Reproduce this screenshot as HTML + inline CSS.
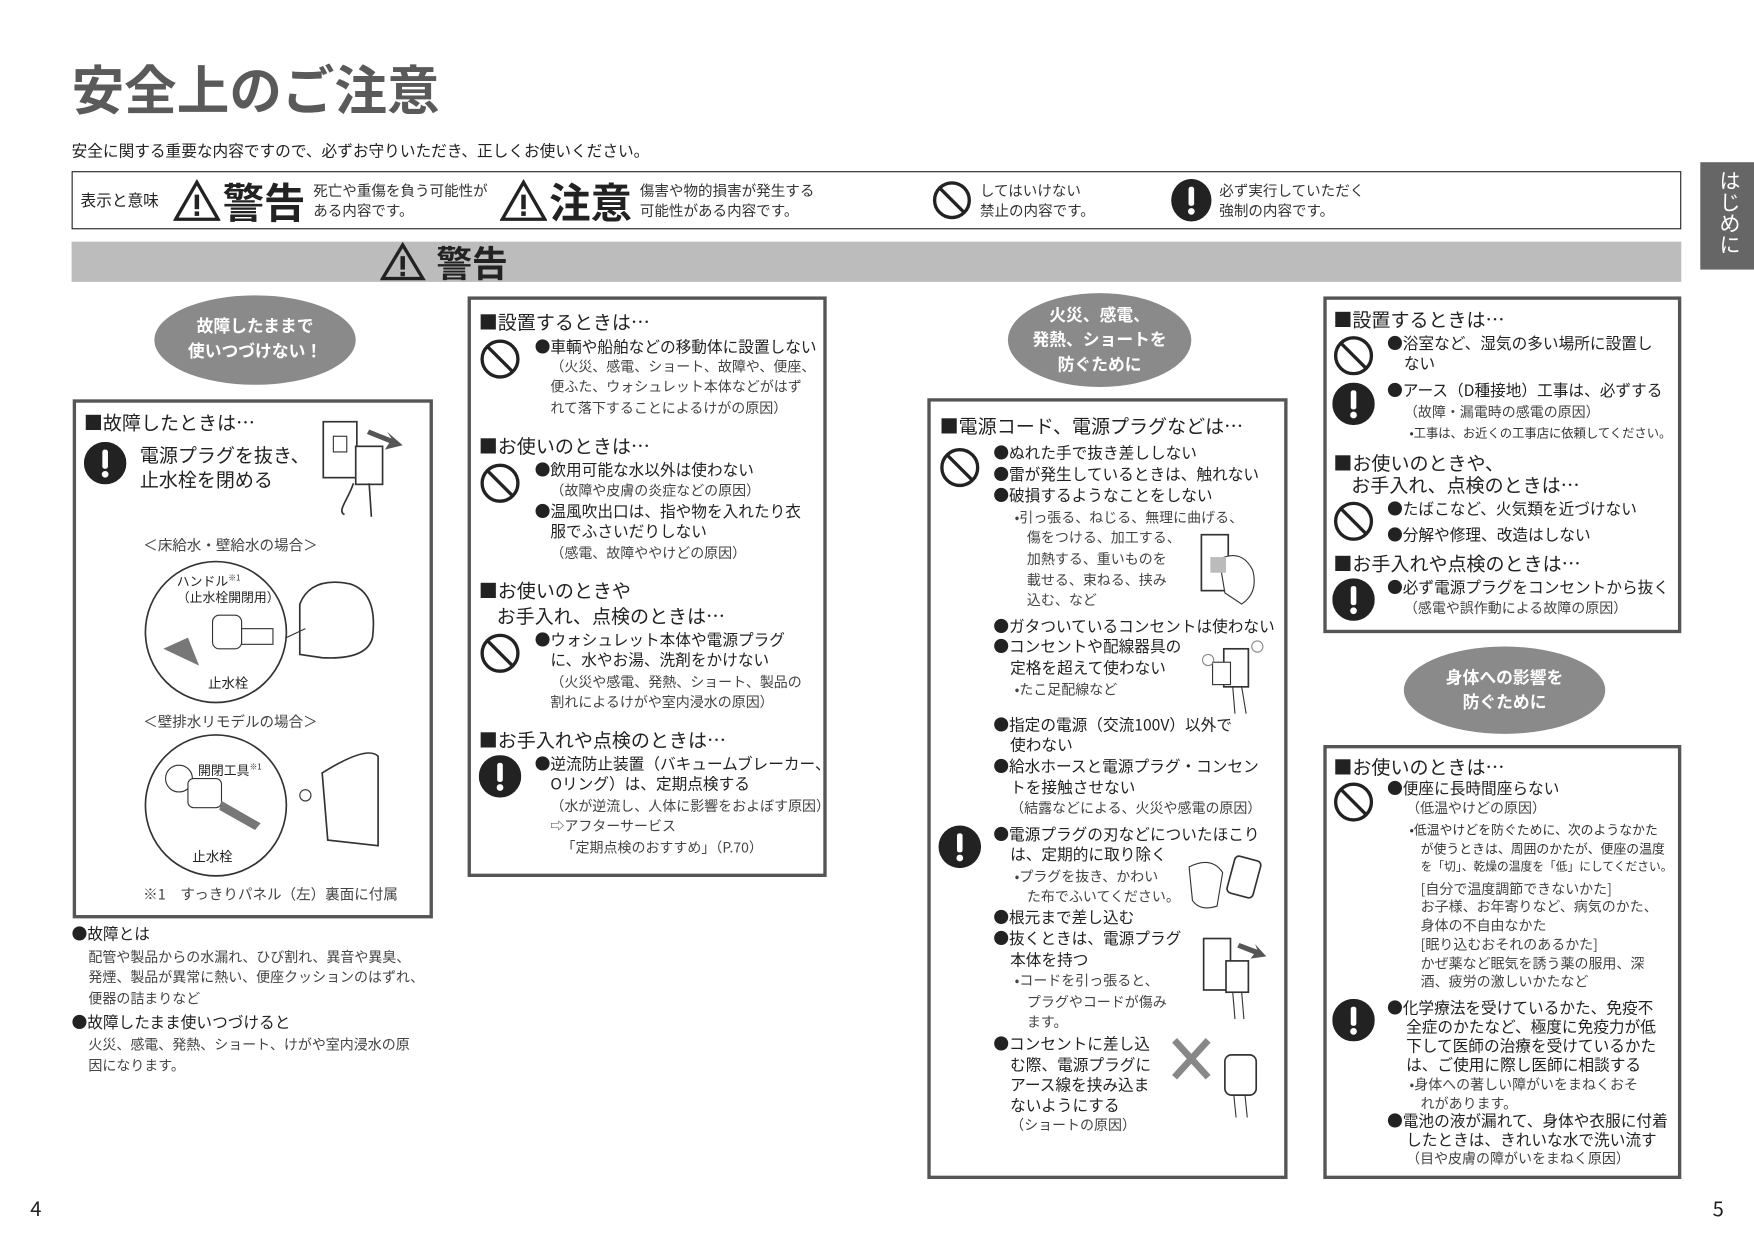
<!DOCTYPE html>
<html><head><meta charset="utf-8">
<style>
html,body{margin:0;padding:0;background:#fff;}
body{width:1754px;height:1240px;overflow:hidden;position:relative;}
#p{position:absolute;left:0;top:0;width:1568px;height:1109px;transform:scale(1.11862);transform-origin:0 0;font-family:"Noto Sans CJK JP","Liberation Sans",sans-serif;color:#222;}
.t{position:absolute;white-space:nowrap;line-height:18px;font-size:14px;}
.g{font-size:12.5px;color:#444;}
.s{font-size:11.5px;color:#333;}
.h{font-size:17px;line-height:20px;}
.box{position:absolute;border:3px solid #555;box-sizing:border-box;background:#fff;}
.el{position:absolute;border-radius:50%;background:#8a8a8a;color:#fff;font-weight:bold;text-align:center;font-size:15px;line-height:22px;}
svg.i{position:absolute;}
</style></head><body><div id="p">

<div class="t" style="left:64px;top:50px;font-size:47px;line-height:56px;font-weight:bold;color:#5a5a5a;">安全上のご注意</div>
<div class="t" style="left:64px;top:126px;font-size:14px;">安全に関する重要な内容ですので、必ずお守りいただき、正しくお使いください。</div>

<div style="position:absolute;left:64px;top:153px;width:1439px;height:52px;border:1.5px solid #222;box-sizing:border-box;"></div>
<div class="t" style="left:72px;top:170px;font-size:14px;">表示と意味</div>
<svg class="i" style="left:155px;top:160px" width="42" height="38"><polygon points="21,3 40,36 2,36" fill="none" stroke="#222" stroke-width="3"/><rect x="19" y="14" width="4" height="13" fill="#222"/><rect x="19" y="29" width="4" height="4" fill="#222"/></svg>
<div class="t" style="left:199px;top:158px;font-size:37px;line-height:42px;font-weight:bold;">警告</div>
<div class="t s" style="left:280px;top:161px;font-size:13px;">死亡や重傷を負う可能性が</div>
<div class="t s" style="left:280px;top:179px;font-size:13px;">ある内容です。</div>
<svg class="i" style="left:447px;top:160px" width="42" height="38"><polygon points="21,3 40,36 2,36" fill="none" stroke="#222" stroke-width="3"/><rect x="19" y="14" width="4" height="13" fill="#222"/><rect x="19" y="29" width="4" height="4" fill="#222"/></svg>
<div class="t" style="left:491px;top:158px;font-size:37px;line-height:42px;font-weight:bold;">注意</div>
<div class="t s" style="left:572px;top:161px;font-size:13px;">傷害や物的損害が発生する</div>
<div class="t s" style="left:572px;top:179px;font-size:13px;">可能性がある内容です。</div>
<svg class="i" style="left:833px;top:161px" width="36" height="36"><circle cx="18" cy="18" r="15.5" fill="none" stroke="#222" stroke-width="3"/><line x1="7" y1="7" x2="29" y2="29" stroke="#222" stroke-width="3"/></svg>
<div class="t s" style="left:876px;top:161px;font-size:13px;">してはいけない</div>
<div class="t s" style="left:876px;top:179px;font-size:13px;">禁止の内容です。</div>
<svg class="i" style="left:1046px;top:160px" width="38" height="38"><ellipse cx="19" cy="19" rx="18" ry="19" fill="#222"/><rect x="16.5" y="7" width="5" height="17" rx="2" fill="#fff"/><circle cx="19" cy="29" r="3" fill="#fff"/></svg>
<div class="t s" style="left:1090px;top:161px;font-size:13px;">必ず実行していただく</div>
<div class="t s" style="left:1090px;top:179px;font-size:13px;">強制の内容です。</div>

<div style="position:absolute;left:64px;top:216px;width:1439px;height:36px;background:#bcbcbc;"></div>
<svg class="i" style="left:340px;top:216px" width="42" height="36"><polygon points="20,3 38,33 2,33" fill="none" stroke="#222" stroke-width="3"/><rect x="18" y="13" width="4" height="12" fill="#222"/><rect x="18" y="27" width="4" height="4" fill="#222"/></svg>
<div class="t" style="left:390px;top:215px;font-size:32px;line-height:38px;font-weight:bold;">警告</div>

<div style="position:absolute;left:1520px;top:145px;width:48px;height:96px;background:#666;"></div>
<div style="position:absolute;left:1531px;top:152px;width:26px;color:#fff;font-size:19px;line-height:21px;text-align:center;writing-mode:vertical-rl;">はじめに</div>

<!-- Column 1 -->
<div class="el" style="left:138px;top:264px;width:180px;height:80px;"><div style="padding-top:17px">故障したままで<br>使いつづけない！</div></div>
<div class="box" style="left:65px;top:357px;width:322px;height:464px;"></div>
<div class="t h" style="left:75px;top:367px;">■故障したときは…</div>
<svg class="i" style="left:75px;top:395px" width="38" height="38"><circle cx="19" cy="19" r="19" fill="#222"/><rect x="16.5" y="7" width="5" height="17" rx="2" fill="#fff"/><circle cx="19" cy="29" r="3" fill="#fff"/></svg>
<div class="t" style="left:125px;top:395px;font-size:17px;line-height:22px;">電源プラグを抜き、<br>止水栓を閉める</div>
<svg class="i" style="left:286px;top:372px" width="80" height="92"><rect x="3" y="5" width="30" height="50" fill="#fff" stroke="#333" stroke-width="1.5"/><rect x="12" y="18" width="12" height="14" fill="none" stroke="#333"/><rect x="32" y="27" width="24" height="34" fill="#fff" stroke="#333" stroke-width="1.5"/><path d="M30 60 C25 75 15 85 22 88 M44 60 L46 90" fill="none" stroke="#333" stroke-width="1.5"/><polygon points="44,12 64,20 60,14 74,26 58,30 62,24 42,16" fill="#555"/></svg>
<div class="t g" style="left:128px;top:478px;font-size:13px;">＜床給水・壁給水の場合＞</div>
<svg class="i" style="left:128px;top:500px" width="215" height="132"><circle cx="65" cy="65" r="63" fill="#fff" stroke="#333" stroke-width="1.5"/><path d="M18 80 L40 70 L50 95 Z" fill="#777"/><rect x="62" y="50" width="26" height="30" rx="6" fill="#fff" stroke="#333"/><rect x="88" y="62" width="28" height="14" fill="#fff" stroke="#333"/><path d="M140 40 Q150 15 185 22 Q210 30 205 70 Q200 90 160 88 L140 85 Z" fill="#fff" stroke="#333" stroke-width="1.5"/><line x1="128" y1="70" x2="145" y2="62" stroke="#333"/></svg>
<div class="t" style="left:158px;top:510px;font-size:11.5px;line-height:14px;">ハンドル<sup style="font-size:7px">※1</sup><br>（止水栓開閉用）</div>
<div class="t" style="left:186px;top:602px;font-size:12px;">止水栓</div>
<div class="t g" style="left:128px;top:636px;font-size:13px;">＜壁排水リモデルの場合＞</div>
<svg class="i" style="left:128px;top:656px" width="215" height="130"><circle cx="65" cy="64" r="63" fill="#fff" stroke="#333" stroke-width="1.5"/><circle cx="32" cy="40" r="12" fill="#fff" stroke="#333"/><rect x="40" y="40" width="30" height="26" rx="5" fill="#fff" stroke="#333"/><path d="M70 60 L105 80 L100 86 L68 68Z" fill="#777"/><path d="M160 35 Q200 10 210 20 L210 100 L165 95 Z" fill="#fff" stroke="#333" stroke-width="1.5"/><circle cx="145" cy="55" r="5" fill="none" stroke="#333"/></svg>
<div class="t" style="left:177px;top:677px;font-size:11.5px;">開閉工具<sup style="font-size:7px">※1</sup></div>
<div class="t" style="left:172px;top:757px;font-size:12px;">止水栓</div>
<div class="t g" style="left:128px;top:790px;font-size:13px;">※1　すっきりパネル（左）裏面に付属</div>
<div class="t" style="left:64px;top:826px;">●故障とは</div>
<div class="t g" style="left:79px;top:846px;">配管や製品からの水漏れ、ひび割れ、異音や異臭、</div>
<div class="t g" style="left:79px;top:864px;">発煙、製品が異常に熱い、便座クッションのはずれ、</div>
<div class="t g" style="left:79px;top:883px;">便器の詰まりなど</div>
<div class="t" style="left:64px;top:905px;">●故障したまま使いつづけると</div>
<div class="t g" style="left:79px;top:924px;">火災、感電、発熱、ショート、けがや室内浸水の原</div>
<div class="t g" style="left:79px;top:943px;">因になります。</div>

<!-- Column 2 -->
<div class="box" style="left:418px;top:265px;width:321px;height:519px;"></div>
<div class="t h" style="left:428px;top:277px;">■設置するときは…</div>
<svg class="i" style="left:429px;top:303px" width="36" height="36"><circle cx="18" cy="18" r="16" fill="none" stroke="#222" stroke-width="3"/><line x1="7" y1="7" x2="29" y2="29" stroke="#222" stroke-width="3"/></svg>
<div class="t" style="left:478px;top:301px;">●車輌や船舶などの移動体に設置しない</div>
<div class="t g" style="left:492px;top:318px;">（火災、感電、ショート、故障や、便座、</div>
<div class="t g" style="left:492px;top:336px;">便ふた、ウォシュレット本体などがはず</div>
<div class="t g" style="left:492px;top:355px;">れて落下することによるけがの原因）</div>
<div class="t h" style="left:428px;top:388px;">■お使いのときは…</div>
<svg class="i" style="left:429px;top:414px" width="36" height="36"><circle cx="18" cy="18" r="16" fill="none" stroke="#222" stroke-width="3"/><line x1="7" y1="7" x2="29" y2="29" stroke="#222" stroke-width="3"/></svg>
<div class="t" style="left:478px;top:411px;">●飲用可能な水以外は使わない</div>
<div class="t g" style="left:492px;top:429px;">（故障や皮膚の炎症などの原因）</div>
<div class="t" style="left:478px;top:448px;">●温風吹出口は、指や物を入れたり衣</div>
<div class="t" style="left:492px;top:466px;">服でふさいだりしない</div>
<div class="t g" style="left:492px;top:485px;">（感電、故障ややけどの原因）</div>
<div class="t h" style="left:428px;top:517px;">■お使いのときや</div>
<div class="t h" style="left:444px;top:540px;">お手入れ、点検のときは…</div>
<svg class="i" style="left:429px;top:566px" width="36" height="36"><circle cx="18" cy="18" r="16" fill="none" stroke="#222" stroke-width="3"/><line x1="7" y1="7" x2="29" y2="29" stroke="#222" stroke-width="3"/></svg>
<div class="t" style="left:478px;top:563px;">●ウォシュレット本体や電源プラグ</div>
<div class="t" style="left:492px;top:581px;">に、水やお湯、洗剤をかけない</div>
<div class="t g" style="left:492px;top:600px;">（火災や感電、発熱、ショート、製品の</div>
<div class="t g" style="left:492px;top:618px;">割れによるけがや室内浸水の原因）</div>
<div class="t h" style="left:428px;top:651px;">■お手入れや点検のときは…</div>
<svg class="i" style="left:428px;top:675px" width="38" height="38"><circle cx="19" cy="19" r="19" fill="#222"/><rect x="16.5" y="7" width="5" height="17" rx="2" fill="#fff"/><circle cx="19" cy="29" r="3" fill="#fff"/></svg>
<div class="t" style="left:478px;top:674px;">●逆流防止装置（バキュームブレーカー、</div>
<div class="t" style="left:492px;top:692px;">Oリング）は、定期点検する</div>
<div class="t g" style="left:492px;top:711px;">（水が逆流し、人体に影響をおよぼす原因）</div>
<div class="t g" style="left:492px;top:729px;">⇨アフターサービス</div>
<div class="t g" style="left:502px;top:748px;">「定期点検のおすすめ」（P.70）</div>

<!-- Column 3 -->
<div class="el" style="left:901px;top:262px;width:164px;height:84px;"><div style="padding-top:9px">火災、感電、<br>発熱、ショートを<br>防ぐために</div></div>
<div class="box" style="left:829px;top:356px;width:322px;height:698px;"></div>
<div class="t h" style="left:840px;top:370px;">■電源コード、電源プラグなどは…</div>
<svg class="i" style="left:840px;top:400px" width="36" height="36"><circle cx="18" cy="18" r="16" fill="none" stroke="#222" stroke-width="3"/><line x1="7" y1="7" x2="29" y2="29" stroke="#222" stroke-width="3"/></svg>
<div class="t" style="left:888px;top:396px;">●ぬれた手で抜き差ししない</div>
<div class="t" style="left:888px;top:415px;">●雷が発生しているときは、触れない</div>
<div class="t" style="left:888px;top:434px;">●破損するようなことをしない</div>
<div class="t g" style="left:907px;top:453px;">•引っ張る、ねじる、無理に曲げる、</div>
<div class="t g" style="left:918px;top:471px;">傷をつける、加工する、</div>
<div class="t g" style="left:918px;top:490px;">加熱する、重いものを</div>
<div class="t g" style="left:918px;top:509px;">載せる、束ねる、挟み</div>
<div class="t g" style="left:918px;top:527px;">込む、など</div>
<svg class="i" style="left:1070px;top:470px" width="65" height="80"><rect x="4" y="8" width="24" height="50" fill="#fff" stroke="#333" stroke-width="1.5"/><path d="M20 30 Q40 20 50 40 Q55 60 40 70 L25 60 Z" fill="#fff" stroke="#333"/><rect x="12" y="28" width="14" height="14" fill="#bbb"/></svg>
<div class="t" style="left:888px;top:551px;">●ガタついているコンセントは使わない</div>
<div class="t" style="left:888px;top:569px;">●コンセントや配線器具の</div>
<div class="t" style="left:903px;top:588px;">定格を超えて使わない</div>
<div class="t g" style="left:907px;top:607px;">•たこ足配線など</div>
<svg class="i" style="left:1070px;top:570px" width="65" height="72"><rect x="24" y="10" width="22" height="34" fill="#fff" stroke="#333" stroke-width="1.5"/><rect x="14" y="22" width="16" height="20" fill="#fff" stroke="#333"/><path d="M32 44 L34 68 M40 44 L44 68" stroke="#333"/><circle cx="10" cy="20" r="5" fill="none" stroke="#888"/><circle cx="54" cy="8" r="5" fill="none" stroke="#888"/></svg>
<div class="t" style="left:888px;top:639px;">●指定の電源（交流100V）以外で</div>
<div class="t" style="left:903px;top:657px;">使わない</div>
<div class="t" style="left:888px;top:676px;">●給水ホースと電源プラグ・コンセン</div>
<div class="t" style="left:903px;top:695px;">トを接触させない</div>
<div class="t g" style="left:903px;top:713px;">（結露などによる、火災や感電の原因）</div>
<svg class="i" style="left:839px;top:738px" width="38" height="38"><circle cx="19" cy="19" r="19" fill="#222"/><rect x="16.5" y="7" width="5" height="17" rx="2" fill="#fff"/><circle cx="19" cy="29" r="3" fill="#fff"/></svg>
<div class="t" style="left:888px;top:737px;">●電源プラグの刃などについたほこり</div>
<div class="t" style="left:903px;top:755px;">は、定期的に取り除く</div>
<div class="t g" style="left:907px;top:774px;">•プラグを抜き、かわい</div>
<div class="t g" style="left:918px;top:792px;">た布でふいてください。</div>
<svg class="i" style="left:1058px;top:755px" width="80" height="65"><path d="M5 20 Q25 10 35 25 L30 55 Q15 60 8 50 Z" fill="#fff" stroke="#333"/><rect x="42" y="12" width="24" height="34" rx="4" fill="#fff" stroke="#333" stroke-width="1.5" transform="rotate(15 54 29)"/></svg>
<div class="t" style="left:888px;top:811px;">●根元まで差し込む</div>
<div class="t" style="left:888px;top:830px;">●抜くときは、電源プラグ</div>
<div class="t" style="left:903px;top:849px;">本体を持つ</div>
<div class="t g" style="left:907px;top:867px;">•コードを引っ張ると、</div>
<div class="t g" style="left:918px;top:886px;">プラグやコードが傷み</div>
<div class="t g" style="left:918px;top:904px;">ます。</div>
<svg class="i" style="left:1072px;top:835px" width="62" height="78"><rect x="4" y="4" width="24" height="46" fill="#fff" stroke="#333" stroke-width="1.5"/><rect x="24" y="24" width="20" height="28" fill="#fff" stroke="#333" stroke-width="1.5"/><path d="M30 52 L32 76 M38 52 L40 76" stroke="#333"/><polygon points="36,8 52,14 50,9 60,20 46,22 49,18 34,12" fill="#555"/></svg>
<div class="t" style="left:888px;top:924px;">●コンセントに差し込</div>
<div class="t" style="left:903px;top:943px;">む際、電源プラグに</div>
<div class="t" style="left:903px;top:961px;">アース線を挟み込ま</div>
<div class="t" style="left:903px;top:979px;">ないようにする</div>
<div class="t g" style="left:903px;top:996px;">（ショートの原因）</div>
<svg class="i" style="left:1045px;top:925px" width="90" height="75"><path d="M5 5 L35 38 M35 5 L5 38" stroke="#888" stroke-width="6"/><rect x="50" y="18" width="28" height="36" rx="6" fill="#fff" stroke="#333" stroke-width="1.5"/><path d="M58 54 L60 74 M68 54 L70 74" stroke="#333"/></svg>

<!-- Column 4 -->
<div class="box" style="left:1183px;top:265px;width:320px;height:301px;"></div>
<div class="t h" style="left:1192px;top:275px;">■設置するときは…</div>
<svg class="i" style="left:1192px;top:300px" width="36" height="36"><circle cx="18" cy="18" r="16" fill="none" stroke="#222" stroke-width="3"/><line x1="7" y1="7" x2="29" y2="29" stroke="#222" stroke-width="3"/></svg>
<div class="t" style="left:1240px;top:298px;">●浴室など、湿気の多い場所に設置し</div>
<div class="t" style="left:1255px;top:316px;">ない</div>
<svg class="i" style="left:1191px;top:342px" width="38" height="38"><circle cx="19" cy="19" r="19" fill="#222"/><rect x="16.5" y="7" width="5" height="17" rx="2" fill="#fff"/><circle cx="19" cy="29" r="3" fill="#fff"/></svg>
<div class="t" style="left:1240px;top:340px;">●アース（D種接地）工事は、必ずする</div>
<div class="t g" style="left:1255px;top:359px;">（故障・漏電時の感電の原因）</div>
<div class="t s" style="left:1260px;top:378px;font-size:11px;">•工事は、お近くの工事店に依頼してください。</div>
<div class="t h" style="left:1192px;top:403px;">■お使いのときや、</div>
<div class="t h" style="left:1208px;top:423px;">お手入れ、点検のときは…</div>
<svg class="i" style="left:1192px;top:448px" width="36" height="36"><circle cx="18" cy="18" r="16" fill="none" stroke="#222" stroke-width="3"/><line x1="7" y1="7" x2="29" y2="29" stroke="#222" stroke-width="3"/></svg>
<div class="t" style="left:1240px;top:446px;">●たばこなど、火気類を近づけない</div>
<div class="t" style="left:1240px;top:469px;">●分解や修理、改造はしない</div>
<div class="t h" style="left:1192px;top:493px;">■お手入れや点検のときは…</div>
<svg class="i" style="left:1191px;top:517px" width="38" height="38"><circle cx="19" cy="19" r="19" fill="#222"/><rect x="16.5" y="7" width="5" height="17" rx="2" fill="#fff"/><circle cx="19" cy="29" r="3" fill="#fff"/></svg>
<div class="t" style="left:1240px;top:516px;">●必ず電源プラグをコンセントから抜く</div>
<div class="t g" style="left:1255px;top:534px;">（感電や誤作動による故障の原因）</div>

<div class="el" style="left:1255px;top:578px;width:180px;height:78px;"><div style="padding-top:17px">身体への影響を<br>防ぐために</div></div>
<div class="box" style="left:1183px;top:666px;width:320px;height:388px;"></div>
<div class="t h" style="left:1192px;top:675px;">■お使いのときは…</div>
<svg class="i" style="left:1192px;top:699px" width="36" height="36"><circle cx="18" cy="18" r="16" fill="none" stroke="#222" stroke-width="3"/><line x1="7" y1="7" x2="29" y2="29" stroke="#222" stroke-width="3"/></svg>
<div class="t" style="left:1240px;top:696px;">●便座に長時間座らない</div>
<div class="t g" style="left:1257px;top:713px;">（低温やけどの原因）</div>
<div class="t s" style="left:1260px;top:733px;">•低温やけどを防ぐために、次のようなかた</div>
<div class="t s" style="left:1270px;top:750px;">が使うときは、周囲のかたが、便座の温度</div>
<div class="t s" style="left:1270px;top:766px;font-size:10.5px;">を「切」、乾燥の温度を「低」にしてください。</div>
<div class="t g" style="left:1270px;top:785px;">[自分で温度調節できないかた]</div>
<div class="t g" style="left:1270px;top:801px;">お子様、お年寄りなど、病気のかた、</div>
<div class="t g" style="left:1270px;top:818px;">身体の不自由なかた</div>
<div class="t g" style="left:1270px;top:835px;">[眠り込むおそれのあるかた]</div>
<div class="t g" style="left:1270px;top:852px;">かぜ薬など眠気を誘う薬の服用、深</div>
<div class="t g" style="left:1270px;top:868px;">酒、疲労の激しいかたなど</div>
<svg class="i" style="left:1191px;top:893px" width="38" height="38"><circle cx="19" cy="19" r="19" fill="#222"/><rect x="16.5" y="7" width="5" height="17" rx="2" fill="#fff"/><circle cx="19" cy="29" r="3" fill="#fff"/></svg>
<div class="t" style="left:1240px;top:892px;">●化学療法を受けているかた、免疫不</div>
<div class="t" style="left:1257px;top:909px;">全症のかたなど、極度に免疫力が低</div>
<div class="t" style="left:1257px;top:926px;">下して医師の治療を受けているかた</div>
<div class="t" style="left:1257px;top:943px;">は、ご使用に際し医師に相談する</div>
<div class="t g" style="left:1260px;top:960px;">•身体への著しい障がいをまねくおそ</div>
<div class="t g" style="left:1270px;top:977px;">れがあります。</div>
<div class="t" style="left:1240px;top:993px;">●電池の液が漏れて、身体や衣服に付着</div>
<div class="t" style="left:1257px;top:1010px;">したときは、きれいな水で洗い流す</div>
<div class="t g" style="left:1257px;top:1026px;">（目や皮膚の障がいをまねく原因）</div>

<div class="t" style="left:27px;top:1070px;font-size:18px;line-height:20px;">4</div>
<div class="t" style="left:1531px;top:1070px;font-size:18px;line-height:20px;">5</div>
</div></body></html>
